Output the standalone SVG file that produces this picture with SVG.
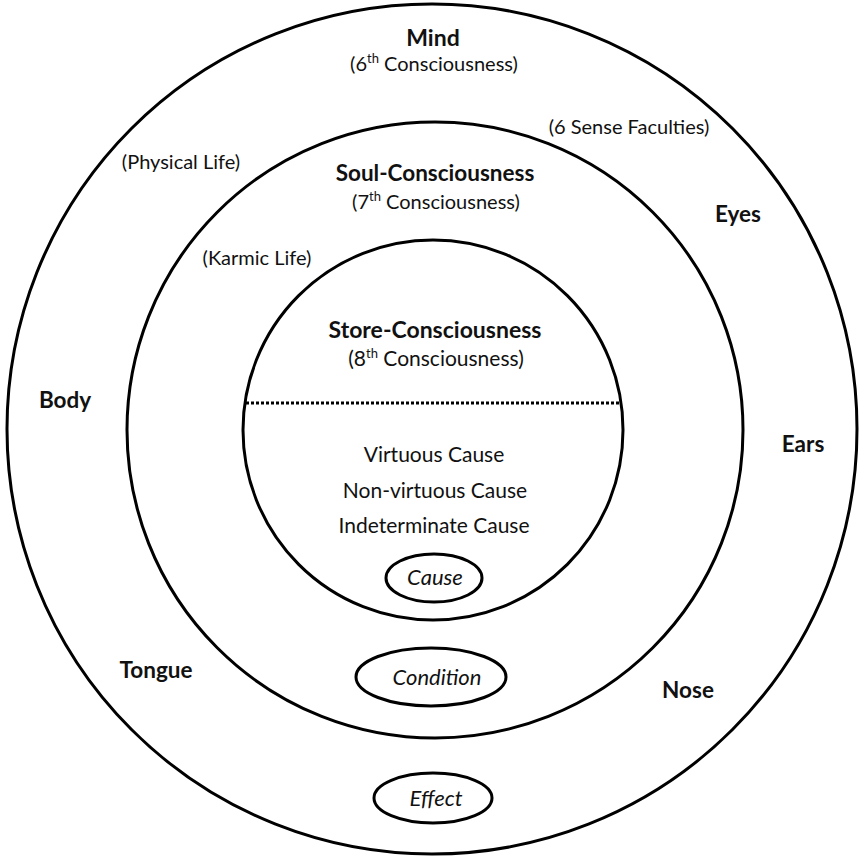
<svg xmlns="http://www.w3.org/2000/svg" width="864" height="860" viewBox="0 0 864 860">
<style>
.c{fill:none;stroke:#000;stroke-width:3}
.e{fill:#fff;stroke:#000;stroke-width:3}
text{font-family:Lato,"Open Sans","Liberation Sans",sans-serif;fill:#111;text-anchor:middle}
.b{font-weight:bold;font-size:22.5px}
.bb{font-weight:bold;font-size:23px}
.r{font-size:20px}
.r2{font-size:21px}
.i{font-style:italic;font-size:22px}
.s{font-size:13px}
</style>
<rect width="864" height="860" fill="#fff"/>
<g id="outer"><circle class="c" cx="432" cy="429" r="425"/></g>
<g id="middle"><circle class="c" cx="435" cy="430" r="308"/></g>
<g id="inner"><circle class="c" cx="433" cy="430" r="190"/></g>
<g id="divider"><line x1="246" y1="403" x2="621" y2="403" stroke="#000" stroke-width="3" stroke-dasharray="3 2"/></g>
<g id="mind">
<text class="bb" x="433" y="46">Mind</text>
<text class="r" x="434" y="71">(6<tspan class="s" dy="-8">th</tspan><tspan dy="8"> Consciousness)</tspan></text>
</g>
<g id="sense"><text class="r" x="629" y="134">(6 Sense Faculties)</text></g>
<g id="physical"><text class="r" x="181" y="169">(Physical Life)</text></g>
<g id="soul">
<text class="b" x="435" y="181">Soul-Consciousness</text>
<text class="r" x="436" y="209">(7<tspan class="s" dy="-8">th</tspan><tspan dy="8"> Consciousness)</tspan></text>
</g>
<g id="eyes"><text class="b" x="738" y="222">Eyes</text></g>
<g id="karmic"><text class="r" x="257" y="265">(Karmic Life)</text></g>
<g id="store">
<text class="bb" x="435" y="338">Store-Consciousness</text>
<text class="r2" x="436" y="366">(8<tspan class="s" dy="-8">th</tspan><tspan dy="8"> Consciousness)</tspan></text>
</g>
<g id="body"><text class="b" x="65" y="408">Body</text></g>
<g id="ears"><text class="b" x="803" y="452">Ears</text></g>
<g id="causes">
<text class="r2" x="434" y="462">Virtuous Cause</text>
<text class="r2" x="435" y="498">Non-virtuous Cause</text>
<text class="r2" x="434" y="533">Indeterminate Cause</text>
</g>
<g id="cause"><ellipse class="e" cx="434" cy="578" rx="48" ry="24"/><text class="i" x="435" y="585">Cause</text></g>
<g id="tongue"><text class="b" x="156" y="678">Tongue</text></g>
<g id="condition"><ellipse class="e" cx="431" cy="677" rx="75" ry="29"/><text class="i" x="437" y="685">Condition</text></g>
<g id="nose"><text class="b" x="688" y="698">Nose</text></g>
<g id="effect"><ellipse class="e" cx="433" cy="798" rx="59" ry="25"/><text class="i" x="436" y="806">Effect</text></g>
</svg>
